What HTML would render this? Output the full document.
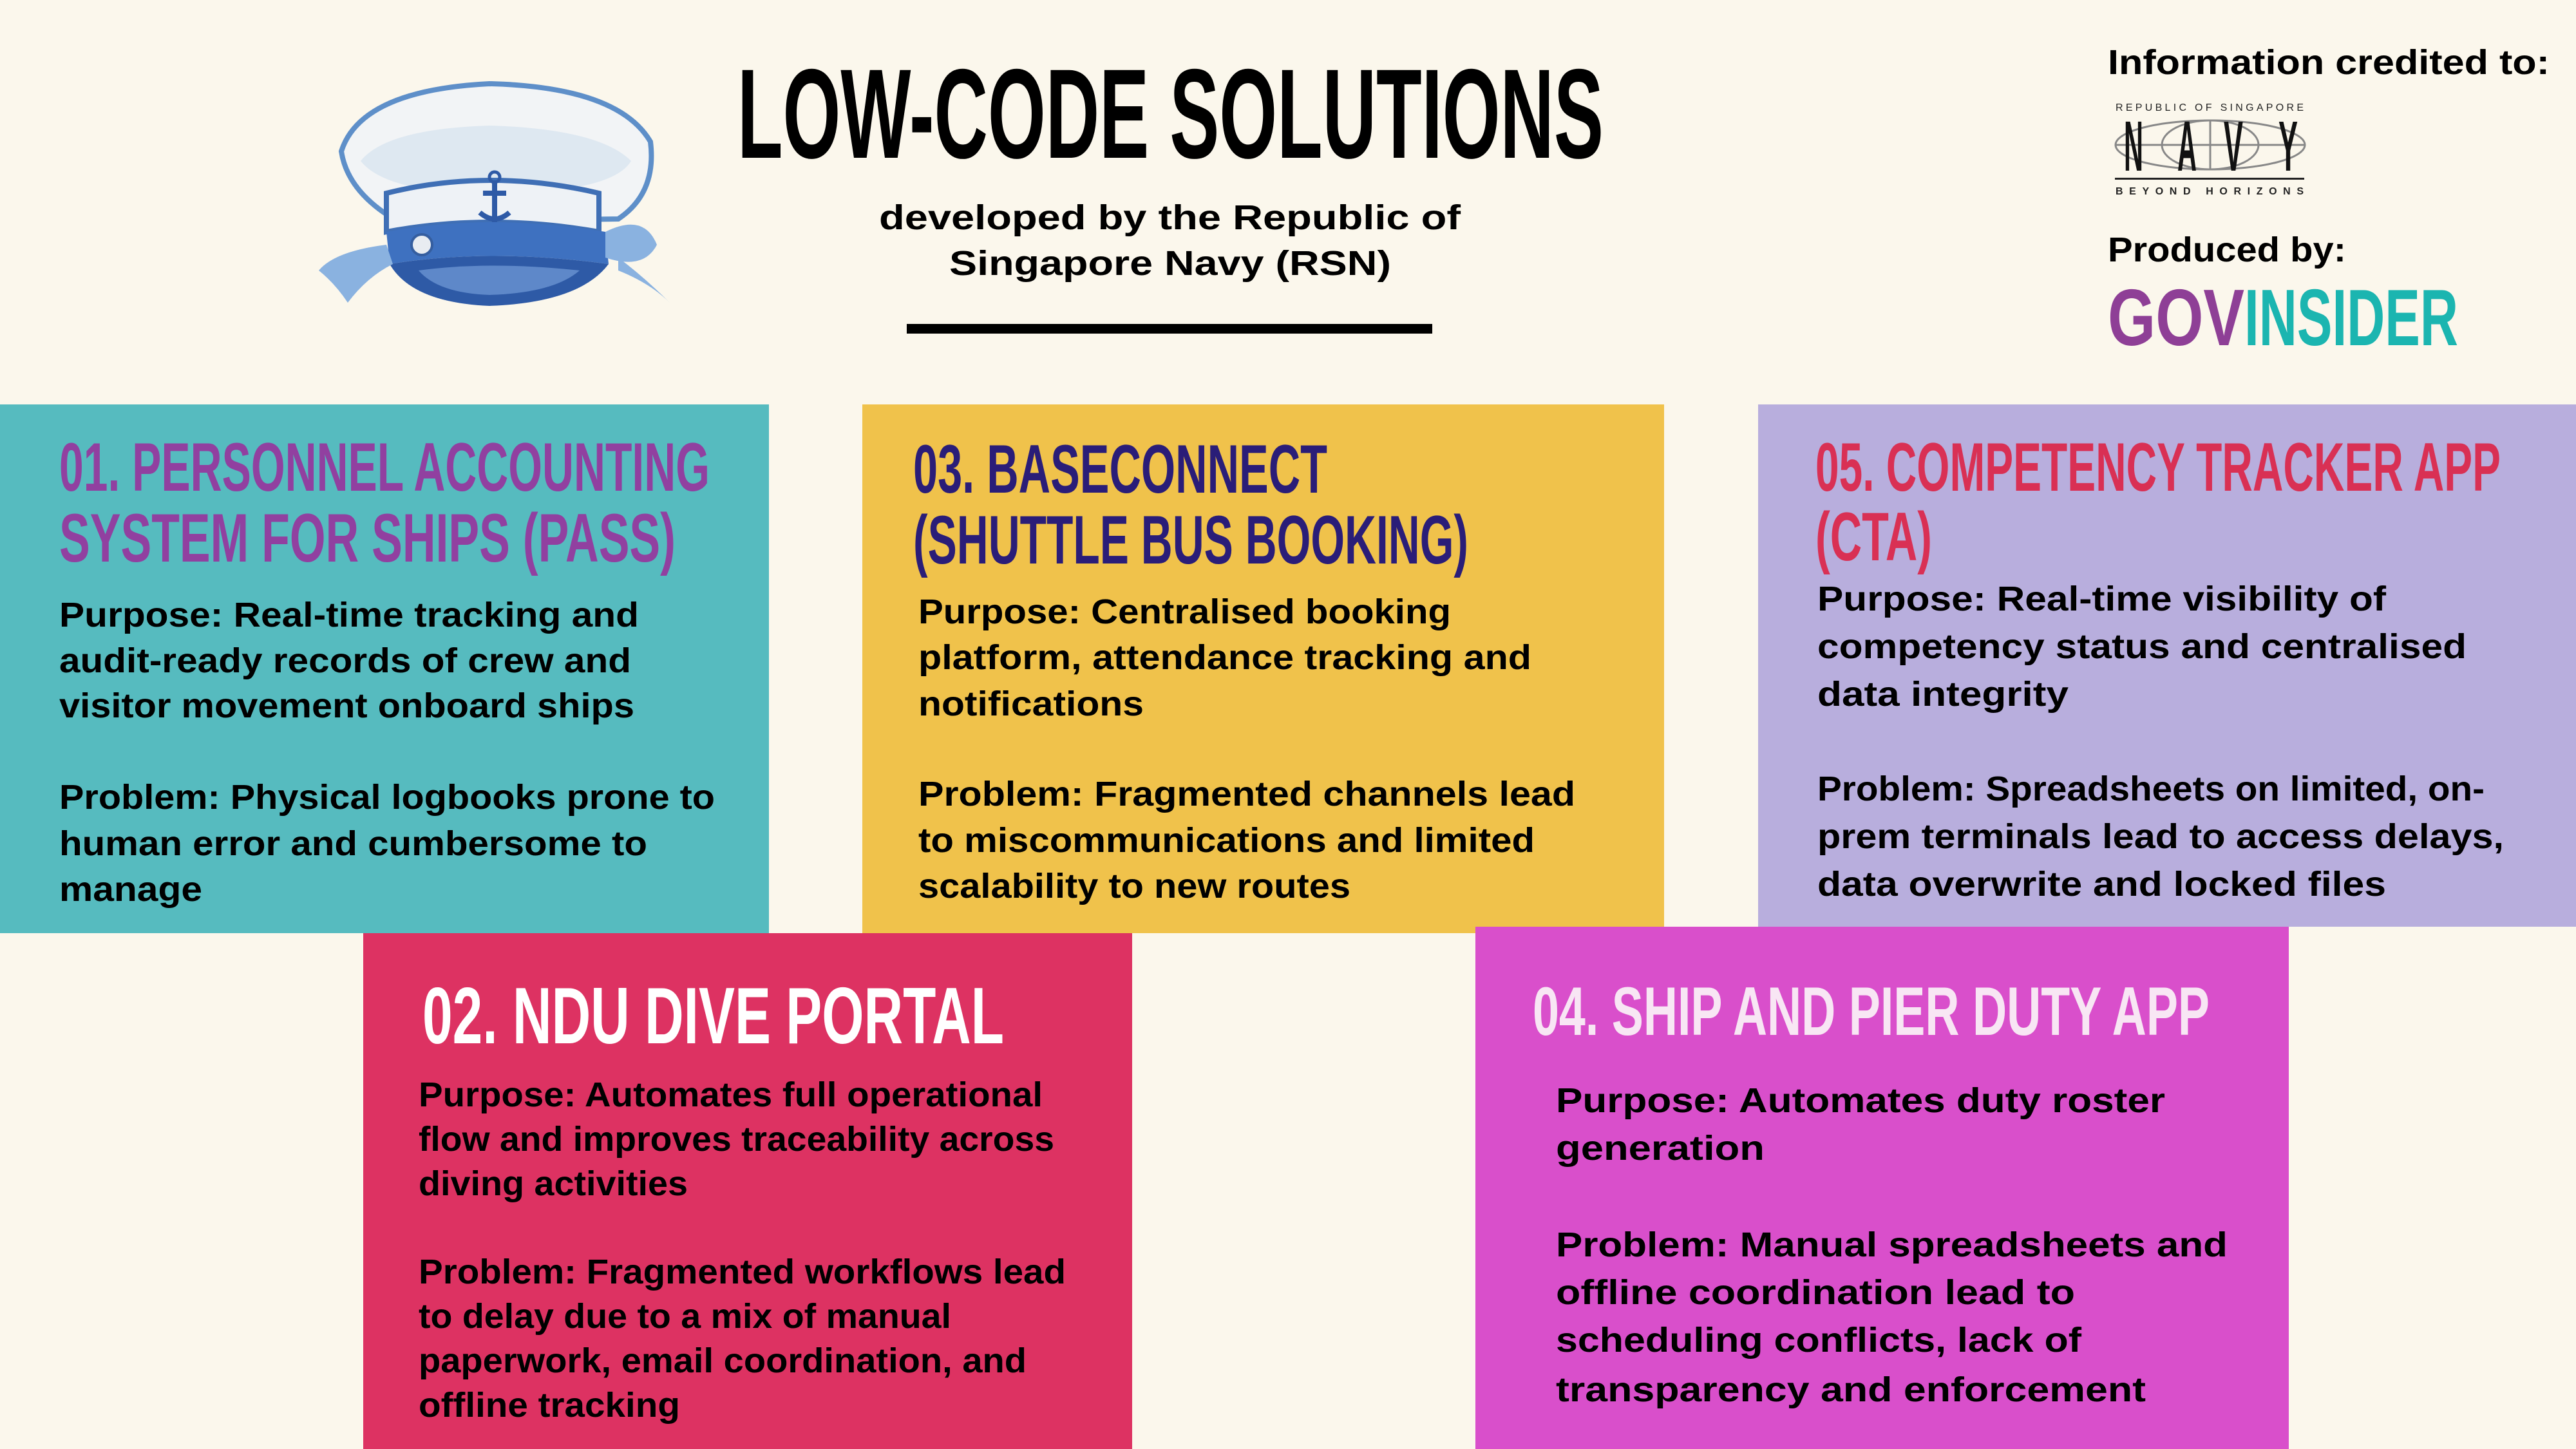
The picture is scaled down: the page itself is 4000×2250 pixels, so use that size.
<!DOCTYPE html>
<html><head><meta charset="utf-8"><style>
html,body{margin:0;padding:0;background:#FBF7EC;}
svg{display:block;}
.t{font-family:"Liberation Sans Narrow","Liberation Sans",sans-serif;font-weight:bold;}
.b{font-family:"Liberation Sans",sans-serif;font-weight:bold;font-size:54px;fill:#000;}
</style></head><body>
<svg width="4000" height="2250" viewBox="0 0 4000 2250" xmlns="http://www.w3.org/2000/svg">
<rect width="4000" height="2250" fill="#FBF7EC"/>

<!-- Hat -->
<g>
<path d="M530 235 Q560 140 760 130 Q960 135 1010 220 Q1020 300 960 340 L620 345 Q540 300 530 235Z" fill="#F2F4F6" stroke="#5E8FC9" stroke-width="8"/>
<path d="M560 250 Q600 200 760 195 Q930 200 980 250 Q950 300 760 300 Q600 300 560 250Z" fill="#D6E3F0" opacity="0.7"/>
<path d="M600 300 Q760 260 930 300 L930 360 Q760 330 600 360Z" fill="#EEF2F6" stroke="#3F6FB5" stroke-width="8"/>
<path d="M600 360 Q760 330 940 360 L945 410 Q760 385 605 410Z" fill="#3E71C0"/>
<path d="M605 410 Q760 385 945 410 Q900 470 760 475 Q640 470 605 410Z" fill="#2E5AA6"/>
<path d="M650 420 Q760 405 900 420 Q860 455 760 458 Q680 455 650 420Z" fill="#6A94D2" opacity="0.8"/>
<circle cx="655" cy="380" r="16" fill="#E8ECF1" stroke="#355E9F" stroke-width="4"/>
<path d="M768 280 L768 345 M750 300 L786 300 M745 330 Q768 350 791 330" stroke="#2E5AA6" stroke-width="8" fill="none"/>
<circle cx="768" cy="275" r="8" fill="none" stroke="#2E5AA6" stroke-width="5"/>
<path d="M940 360 Q1000 330 1020 380 Q1000 420 940 400Z" fill="#8AB2E0"/>
<path d="M600 380 Q520 390 495 420 Q520 440 540 470 Q570 430 610 410Z" fill="#8AB2E0"/>
<path d="M960 400 Q1000 430 1040 470 Q1010 440 960 420Z" fill="#8AB2E0"/>
</g>

<!-- Title -->
<text class="t" x="1145" y="245" font-size="198" textLength="1345" lengthAdjust="spacingAndGlyphs" fill="#000">LOW-CODE SOLUTIONS</text>
<text class="b" x="1365" y="356" font-size="58" textLength="903" lengthAdjust="spacingAndGlyphs">developed by the Republic of</text>
<text class="b" x="1474" y="427" font-size="58" textLength="686" lengthAdjust="spacingAndGlyphs">Singapore Navy (RSN)</text>
<rect x="1408" y="503" width="816" height="15" fill="#000"/>

<!-- Right credits -->
<text class="b" x="3273" y="115" font-size="56" textLength="686" lengthAdjust="spacingAndGlyphs">Information credited to:</text>
<text font-family="Liberation Sans,sans-serif" x="3285" y="172" font-size="16" textLength="292" lengthAdjust="spacing" fill="#222">REPUBLIC OF SINGAPORE</text>
<ellipse cx="3432" cy="225" rx="147" ry="38" fill="none" stroke="#888" stroke-width="3"/>
<ellipse cx="3432" cy="225" rx="75" ry="38" fill="none" stroke="#888" stroke-width="3"/>
<line x1="3285" y1="225" x2="3579" y2="225" stroke="#888" stroke-width="3"/>
<line x1="3432" y1="187" x2="3432" y2="263" stroke="#888" stroke-width="3"/>
<g class="t" font-size="110" fill="#111" font-weight="normal">
<text x="3298" y="265" textLength="30" lengthAdjust="spacingAndGlyphs">N</text>
<text x="3381" y="265" textLength="30" lengthAdjust="spacingAndGlyphs">A</text>
<text x="3453" y="265" textLength="30" lengthAdjust="spacingAndGlyphs">V</text>
<text x="3538" y="265" textLength="30" lengthAdjust="spacingAndGlyphs">Y</text>
</g>
<rect x="3284" y="276" width="294" height="3" fill="#222"/>
<text font-family="Liberation Sans,sans-serif" font-weight="bold" x="3285" y="302" font-size="16" textLength="292" lengthAdjust="spacing" fill="#222">BEYOND HORIZONS</text>
<text class="b" x="3273" y="406" font-size="56" textLength="370" lengthAdjust="spacingAndGlyphs">Produced by:</text>
<text class="t" x="3273" y="536" font-size="124" textLength="212" lengthAdjust="spacingAndGlyphs" fill="#8E3F96">GOV</text>
<text class="t" x="3485" y="536" font-size="124" textLength="332" lengthAdjust="spacingAndGlyphs" fill="#1BB5B0" font-weight="normal">INSIDER</text>

<!-- Boxes -->
<rect x="0" y="628" width="1194" height="821" fill="#56BBBF"/>
<rect x="1339" y="628" width="1245" height="821" fill="#F0C24B"/>
<rect x="2730" y="628" width="1270" height="811" fill="#B8AEDD"/>
<rect x="564" y="1449" width="1194" height="801" fill="#DD3262"/>
<rect x="2291" y="1439" width="1263" height="811" fill="#D94FCB"/>

<!-- Box 1 -->
<g class="t" font-size="107" fill="#9140A0">
<text x="92" y="762" textLength="1010" lengthAdjust="spacingAndGlyphs">01. PERSONNEL ACCOUNTING</text>
<text x="92" y="872" textLength="957" lengthAdjust="spacingAndGlyphs">SYSTEM FOR SHIPS (PASS)</text>
</g>
<g class="b">
<text x="92" y="973" textLength="900" lengthAdjust="spacingAndGlyphs">Purpose: Real-time tracking and</text>
<text x="92" y="1044" textLength="888" lengthAdjust="spacingAndGlyphs">audit-ready records of crew and</text>
<text x="92" y="1114" textLength="893" lengthAdjust="spacingAndGlyphs">visitor movement onboard ships</text>
<text x="92" y="1256" textLength="1018" lengthAdjust="spacingAndGlyphs">Problem: Physical logbooks prone to</text>
<text x="92" y="1328" textLength="913" lengthAdjust="spacingAndGlyphs">human error and cumbersome to</text>
<text x="92" y="1399" textLength="222" lengthAdjust="spacingAndGlyphs">manage</text>
</g>

<!-- Box 3 -->
<g class="t" font-size="107" fill="#2A1D78">
<text x="1418" y="765" textLength="643" lengthAdjust="spacingAndGlyphs">03. BASECONNECT</text>
<text x="1418" y="875" textLength="862" lengthAdjust="spacingAndGlyphs">(SHUTTLE BUS BOOKING)</text>
</g>
<g class="b">
<text x="1426" y="968" textLength="827" lengthAdjust="spacingAndGlyphs">Purpose: Centralised booking</text>
<text x="1426" y="1039" textLength="952" lengthAdjust="spacingAndGlyphs">platform, attendance tracking and</text>
<text x="1426" y="1111" textLength="350" lengthAdjust="spacingAndGlyphs">notifications</text>
<text x="1426" y="1251" textLength="1020" lengthAdjust="spacingAndGlyphs">Problem:  Fragmented channels lead</text>
<text x="1426" y="1323" textLength="957" lengthAdjust="spacingAndGlyphs">to miscommunications and limited</text>
<text x="1426" y="1394" textLength="671" lengthAdjust="spacingAndGlyphs">scalability to new routes</text>
</g>

<!-- Box 5 -->
<g class="t" font-size="107" fill="#D93054">
<text x="2819" y="762" textLength="1064" lengthAdjust="spacingAndGlyphs">05. COMPETENCY TRACKER APP</text>
<text x="2819" y="870" textLength="181" lengthAdjust="spacingAndGlyphs">(CTA)</text>
</g>
<g class="b">
<text x="2822" y="948" textLength="883" lengthAdjust="spacingAndGlyphs">Purpose: Real-time visibility of</text>
<text x="2822" y="1022" textLength="1008" lengthAdjust="spacingAndGlyphs">competency status and centralised</text>
<text x="2822" y="1096" textLength="390" lengthAdjust="spacingAndGlyphs">data integrity</text>
<text x="2822" y="1243" textLength="1036" lengthAdjust="spacingAndGlyphs">Problem: Spreadsheets on limited, on-</text>
<text x="2822" y="1317" textLength="1066" lengthAdjust="spacingAndGlyphs">prem terminals lead to access delays,</text>
<text x="2822" y="1391" textLength="883" lengthAdjust="spacingAndGlyphs">data overwrite and locked files</text>
</g>

<!-- Box 2 -->
<text class="t" x="656" y="1620" font-size="124" fill="#FFFFFF" textLength="903" lengthAdjust="spacingAndGlyphs">02. NDU DIVE PORTAL</text>
<g class="b">
<text x="650" y="1718" textLength="969" lengthAdjust="spacingAndGlyphs">Purpose: Automates full operational</text>
<text x="650" y="1787" textLength="987" lengthAdjust="spacingAndGlyphs">flow and improves traceability across</text>
<text x="650" y="1856" textLength="418" lengthAdjust="spacingAndGlyphs">diving activities</text>
<text x="650" y="1993" textLength="1005" lengthAdjust="spacingAndGlyphs">Problem: Fragmented workflows lead</text>
<text x="650" y="2062" textLength="827" lengthAdjust="spacingAndGlyphs">to delay due to a mix of manual</text>
<text x="650" y="2131" textLength="944" lengthAdjust="spacingAndGlyphs">paperwork, email coordination, and</text>
<text x="650" y="2200" textLength="406" lengthAdjust="spacingAndGlyphs">offline tracking</text>
</g>

<!-- Box 4 -->
<text class="t" x="2380" y="1607" font-size="107" fill="#F8E6F4" textLength="1051" lengthAdjust="spacingAndGlyphs">04. SHIP AND PIER DUTY APP</text>
<g class="b" font-size="56">
<text x="2416" y="1727" textLength="946" lengthAdjust="spacingAndGlyphs">Purpose: Automates duty roster</text>
<text x="2416" y="1801" textLength="324" lengthAdjust="spacingAndGlyphs">generation</text>
<text x="2416" y="1951" textLength="1043" lengthAdjust="spacingAndGlyphs">Problem: Manual spreadsheets and</text>
<text x="2416" y="2025" textLength="806" lengthAdjust="spacingAndGlyphs">offline coordination lead to</text>
<text x="2416" y="2099" textLength="816" lengthAdjust="spacingAndGlyphs">scheduling conflicts, lack of</text>
<text x="2416" y="2176" textLength="916" lengthAdjust="spacingAndGlyphs">transparency and enforcement</text>
</g>
</svg>
</body></html>
